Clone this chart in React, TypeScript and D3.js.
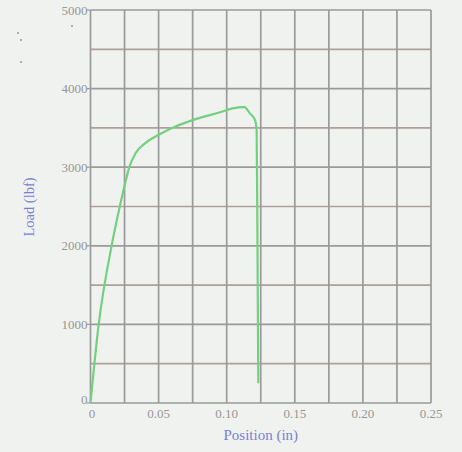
import { useEffect, useRef } from "react"
import * as d3 from 'd3'

// load vs position
const position = [0, 0.006, 0.0155, 0.0215, 0.0255, 0.0285, 0.033, 0.040, 0.0498, 0.062, 0.0767, 0.0938, 0.1085, 0.113, 0.117, 0.1208, 0.122, 0.1226, 0.1232]
const load = [0, 1000, 2000, 2500, 2800, 3000, 3176, 3303, 3409, 3515, 3609, 3693, 3761, 3765, 3685, 3600, 3473, 2000, 250]

const xTicks = [0, 0.05, 0.10, 0.15, 0.20, 0.25]
const xTickLabels = ['0', '0.05', '0.10', '0.15', '0.20', '0.25']
const yTicks = [0, 1000, 2000, 3000, 4000, 5000]

export default function App() {
  const svgRef = useRef<SVGSVGElement>(null)

  useEffect(() => {
    d3.select(svgRef.current).selectAll('*').remove()
    if (svgRef.current) {
      const svg = d3.select(svgRef.current)
      const width = 462
      const height = 452
      const margin = { top: 10, right: 31, bottom: 49, left: 90.5 }

      svg.append('rect')
        .attr('width', width)
        .attr('height', height)
        .attr('fill', '#f0f2f0')

      const xScale = d3.scaleLinear()
        .domain([0, 0.25])
        .range([margin.left, width - margin.right])

      const yScale = d3.scaleLinear()
        .domain([0, 5000])
        .range([height - margin.bottom, margin.top])

      const xGrid = d3.range(0, 11).map(i => i * 0.025)
      const yGrid = d3.range(0, 11).map(i => i * 500)

      svg.append('g')
        .selectAll('line')
        .data(yGrid)
        .join('line')
        .attr('x1', xScale(0))
        .attr('x2', xScale(0.25))
        .attr('y1', d => yScale(d))
        .attr('y2', d => yScale(d))
        .attr('stroke', (d, i) => i % 2 ? '#ae9f98' : '#9a9a9a')
        .attr('stroke-width', 1.7)

      svg.append('g')
        .selectAll('line')
        .data(xGrid)
        .join('line')
        .attr('x1', d => xScale(d))
        .attr('x2', d => xScale(d))
        .attr('y1', yScale(0))
        .attr('y2', yScale(5000))
        .attr('stroke', '#9a9a9a')
        .attr('stroke-width', 1.7)

      // y tick marks + labels
      svg.append('g')
        .selectAll('line')
        .data(yTicks)
        .join('line')
        .attr('x1', xScale(0) - 4)
        .attr('x2', xScale(0))
        .attr('y1', d => yScale(d))
        .attr('y2', d => yScale(d))
        .attr('stroke', '#9a9a9a')
        .attr('stroke-width', 1.2)

      svg.append('g')
        .selectAll('text')
        .data(yTicks)
        .join('text')
        .attr('x', xScale(0) - 3)
        .attr('y', d => yScale(d))
        .attr('dy', d => d === 0 ? '0.1em' : '0.35em')
        .attr('text-anchor', 'end')
        .attr('font-family', 'Liberation Serif, serif')
        .attr('font-size', 13)
        .attr('fill', '#969696')
        .text(d => String(d))

      svg.append('g')
        .selectAll('text')
        .data(xTicks)
        .join('text')
        .attr('x', d => xScale(d) + (d === 0 ? 1.5 : 0))
        .attr('y', yScale(0) + 15)
        .attr('text-anchor', 'middle')
        .attr('font-family', 'Liberation Serif, serif')
        .attr('font-size', 13)
        .attr('fill', '#969696')
        .text((d, i) => xTickLabels[i])

      const line = d3.line<number>()
        .x((d, i) => xScale(position[i]))
        .y((d, i) => yScale(load[i]))
        .curve(d3.curveMonotoneX)

      svg.append('path')
        .datum(load)
        .attr('fill', 'none')
        .attr('stroke', '#72d07e')
        .attr('stroke-width', 2.2)
        .attr('stroke-linejoin', 'round')
        .attr('d', line)

      svg.append('text')
        .attr('x', (xScale(0) + xScale(0.25)) / 2)
        .attr('y', 440)
        .attr('text-anchor', 'middle')
        .attr('font-family', 'Liberation Serif, serif')
        .attr('font-size', 15)
        .attr('fill', '#7a80d4')
        .text('Position (in)')

      svg.append('text')
        .attr('transform', `translate(34, ${207}) rotate(-90)`)
        .attr('text-anchor', 'middle')
        .attr('font-family', 'Liberation Serif, serif')
        .attr('font-size', 14.5)
        .attr('fill', '#7a80d4')
        .text('Load (lbf)')

      // stray specks from the scan
      svg.append('g')
        .selectAll('circle')
        .data([[18, 33], [21, 40], [72, 26], [21, 62]])
        .join('circle')
        .attr('cx', d => d[0])
        .attr('cy', d => d[1])
        .attr('r', 1)
        .attr('fill', '#999')
    }
  }, [])

  return (
    <svg ref={svgRef} width="462" height="452" style={{ position: 'absolute', top: 0, left: 0, display: 'block' }}></svg>
  )
}
